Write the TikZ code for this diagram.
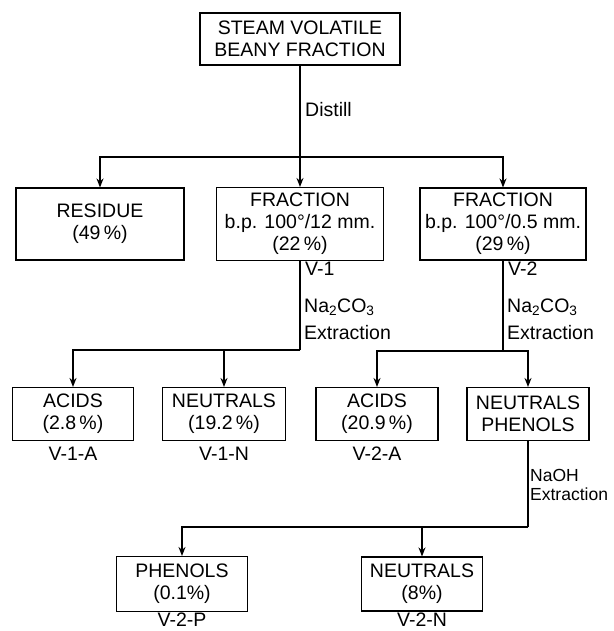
\documentclass[tikz,border=0pt]{standalone}
\usepackage{fontspec}
\setmainfont{Liberation Sans}
\usepackage{tikz}
\usetikzlibrary{arrows.meta}

\tikzset{
  box/.style={draw, line width=1.1pt, inner sep=0pt, align=center,
    font=\fontsize{19.5}{22}\selectfont},
  tag/.style={inner sep=0pt, font=\fontsize{19.5}{22}\selectfont},
  link/.style={line width=2pt},
  linkarrow/.style={line width=2pt, -{Stealth[length=9pt,width=7pt]}}
}

\begin{document}
\begin{tikzpicture}[x=1pt, y=-1pt]
  \useasboundingbox (0,0) rectangle (613,631);

  % Start
  \node[box, minimum width=200pt, minimum height=52pt] (src) at (300,39)
    {STEAM VOLATILE\\BEANY FRACTION};
  \node[tag, anchor=west] (distill) at (305,110) {Distill};
  \coordinate (split1) at (300,157);

  % Distillation products
  \node[box, minimum width=168pt, minimum height=72pt] (residue) at (100,224)
    {RESIDUE\\(49\,\%)};
  \node[box, minimum width=167pt, minimum height=73pt] (fracA) at (300,224)
    {FRACTION\\b.p. 100°/12 mm.\\(22\,\%)};
  \node[box, minimum width=166pt, minimum height=72pt] (fracB) at (503,224)
    {FRACTION\\b.p. 100°/0.5 mm.\\(29\,\%)};

  \draw[linkarrow] (src.south) -- (fracA.north);
  \draw[linkarrow] (split1) -| (residue.north);
  \draw[linkarrow] (split1) -| (fracB.north);

  % Na2CO3 extraction of V-1
  \node[tag, anchor=west] (vA) at (305,269) {V-1};
  \node[tag, anchor=west, align=left, font=\fontsize{19.5}{27}\selectfont] (extrA) at (304,319)
    {Na\textsubscript{2}CO\textsubscript{3}\\Extraction};
  \coordinate (split2) at (300,350);
  \node[box, minimum width=121pt, minimum height=53pt] (acidsA) at (73,414)
    {ACIDS\\(2.8\,\%)};
  \node[box, minimum width=123pt, minimum height=53pt] (neutA) at (224,414)
    {NEUTRALS\\(19.2\,\%)};
  \node[tag] (labAA) at (73,454) {V-1-A};
  \node[tag] (labAN) at (224,454) {V-1-N};

  \draw[link] (fracA.south) -- (split2);
  \draw[linkarrow] (split2) -| (acidsA.north);
  \draw[linkarrow] (split2) -| (neutA.north);

  % Na2CO3 extraction of V-2
  \node[tag, anchor=west] (vB) at (508,269) {V-2};
  \node[tag, anchor=west, align=left, font=\fontsize{19.5}{27}\selectfont] (extrB) at (507,319)
    {Na\textsubscript{2}CO\textsubscript{3}\\Extraction};
  \node[box, minimum width=122pt, minimum height=53pt] (acidsB) at (377,414)
    {ACIDS\\(20.9\,\%)};
  \node[box, minimum width=122pt, minimum height=53pt] (neutphen) at (528,414)
    {NEUTRALS\\PHENOLS};
  \node[tag] (labBA) at (377,454) {V-2-A};

  \draw[link] (fracB.south) -- (fracB.south |- 0,351) coordinate (split3);
  \draw[linkarrow] (split3) -| (acidsB.north);
  \draw[linkarrow] (split3) -| (neutphen.north);

  % NaOH extraction
  \node[tag, anchor=west, align=left, font=\fontsize{17.5}{19}\selectfont] (extrC) at (530,485)
    {NaOH\\Extraction};
  \node[box, minimum width=131pt, minimum height=55pt] (phenols) at (182,584)
    {PHENOLS\\(0.1\%)};
  \node[box, minimum width=121pt, minimum height=54pt] (neutB) at (422,584)
    {NEUTRALS\\(8\%)};
  \node[tag] (labBP) at (182,619.5) {V-2-P};
  \node[tag] (labBN) at (422,619.5) {V-2-N};

  \draw[link] (neutphen.south) -- (neutphen.south |- 0,527) coordinate (split4);
  \draw[linkarrow] (split4) -| (phenols.north);
  \draw[linkarrow] (split4) -| (neutB.north);
\end{tikzpicture}
\end{document}
